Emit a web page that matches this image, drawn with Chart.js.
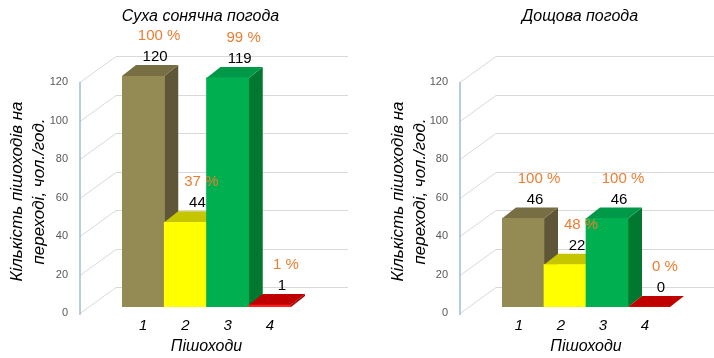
<!DOCTYPE html>
<html lang="uk">
<head>
<meta charset="UTF-8" />
<title>Кількість пішоходів на переході</title>
<script src="https://cdn.jsdelivr.net/npm/chart.js"></script>
<style>
  body { margin: 0; background: #fff; }
  .wrap { position: relative; width: 714px; height: 358px; overflow: hidden; }
  canvas { position: absolute; top: 0; }
  #dryChart { left: 0; }
  #rainChart { left: 357px; }
</style>
</head>
<body>
<div class="wrap">
  <canvas id="dryChart" width="357" height="358"></canvas>
  <canvas id="rainChart" width="357" height="358"></canvas>
</div>
<script>
// дані
const categories = ["1", "2", "3", "4"];
const yTicks = [0, 20, 40, 60, 80, 100, 120];
const dryValues = [120, 44, 119, 1];
const dryPercents = [100, 37, 99, 1];
const rainValues = [46, 22, 46, 0];
const rainPercents = [100, 48, 100, 0];
const dryTitle = "Суха сонячна погода";
const rainTitle = "Дощова погода";
const yTitle = ["Кількість пішоходів на", "переході, чол./год."];
const xTitle = "Пішоходи";

// кольори граней стовпців
const frontColors = ["#948A54", "#FFFF00", "#00B050", "#FF2020"];
const sideColors = ["#5E5636", "#C4C400", "#00782F", "#A00000"];
const topColors = ["#786E44", "#C6C600", "#00994A", "#C00000"];

const FONT = "'Liberation Sans', Arial, sans-serif";
const DX = 14, DY = 11;        // глибина стовпця
const WX = 36, WY = 26;        // глибина задньої стінки

function poly(ctx, pts) {
  ctx.beginPath();
  ctx.moveTo(pts[0][0], pts[0][1]);
  for (let k = 1; k < pts.length; k++) ctx.lineTo(pts[k][0], pts[k][1]);
  ctx.closePath();
  ctx.fill();
}

// задня стінка: лінії сітки та вісь
const wall = {
  id: "wall",
  beforeDraw(chart, args, opts) {
    const ctx = chart.ctx, y = chart.scales.y, area = chart.chartArea;
    const ax = area.left - 42;
    ctx.save();
    ctx.strokeStyle = "#D9D9D9";
    ctx.lineWidth = 1;
    y.ticks.forEach(t => {
      const py = Math.round(y.getPixelForValue(t.value) + 6) + 0.5;
      ctx.beginPath();
      ctx.moveTo(ax, py);
      ctx.lineTo(ax + WX, py - WY);
      ctx.lineTo(opts.end, py - WY);
      ctx.stroke();
    });
    ctx.strokeStyle = "#9DBBDD";
    ctx.lineWidth = 1.5;
    ctx.beginPath();
    ctx.moveTo(ax, y.getPixelForValue(yTicks[yTicks.length - 1]) + 6);
    ctx.lineTo(ax, y.getPixelForValue(0) + 8);
    ctx.stroke();
    ctx.restore();
  }
};

// бічні та верхні грані, підписи
const bar3d = {
  id: "bar3d",
  beforeDatasetsDraw(chart) {
    const ctx = chart.ctx;
    const bars = chart.getDatasetMeta(0).data;
    ctx.save();
    bars.forEach((bar, i) => {
      const { x, y, base, width } = bar.getProps(["x", "y", "base", "width"], true);
      const r = x + width / 2;
      ctx.fillStyle = sideColors[i];
      poly(ctx, [[r, y], [r + DX, y - DY], [r + DX, base - DY], [r, base]]);
    });
    bars.forEach((bar, i) => {
      const { x, y, width } = bar.getProps(["x", "y", "width"], true);
      const l = x - width / 2, r = x + width / 2;
      ctx.fillStyle = topColors[i];
      poly(ctx, [[l, y], [l + DX, y - DY], [r + DX, y - DY], [r, y]]);
    });
    ctx.restore();
  },
  afterDatasetsDraw(chart, args, opts) {
    const ctx = chart.ctx;
    const values = chart.data.datasets[0].data;
    ctx.save();
    ctx.font = "15px " + FONT;
    ctx.textAlign = "center";
    ctx.textBaseline = "middle";
    chart.getDatasetMeta(0).data.forEach((bar, i) => {
      const { x, y } = bar.getProps(["x", "y"], true);
      const vy = y - DY - 8;
      ctx.fillStyle = "#000";
      ctx.fillText(String(values[i]), x + 12, vy);
      ctx.fillStyle = "#ED7D31";
      ctx.fillText(opts.percents[i] + " %", x + 16, vy - 21);
    });
    ctx.restore();
  },
  afterDraw(chart, args, opts) {
    const ctx = chart.ctx, area = chart.chartArea;
    ctx.save();
    ctx.font = "italic 16px " + FONT;
    ctx.fillStyle = "#000";
    ctx.textAlign = "center";
    ctx.textBaseline = "middle";
    ctx.fillText(opts.title, (area.left + area.right) / 2 - 6, 17);
    ctx.restore();
  }
};

function makeChart(id, values, percents, title, padLeft, yWidth, padRight, gridEnd, xShift) {
  return new Chart(document.getElementById(id), {
    type: "bar",
    data: {
      labels: categories,
      datasets: [{
        data: values,
        backgroundColor: frontColors,
        borderWidth: 0,
        categoryPercentage: 1,
        barPercentage: 1
      }]
    },
    options: {
      responsive: false,
      animation: false,
      layout: { padding: { left: padLeft, right: padRight, top: 76, bottom: 0 } },
      plugins: {
        legend: { display: false },
        tooltip: { enabled: false },
        wall: { end: gridEnd },
        bar3d: { percents: percents, title: title }
      },
      scales: {
        x: {
          grid: { display: false, drawTicks: false },
          border: { display: false },
          ticks: { color: "#000", font: { family: FONT, size: 15, style: "italic" }, padding: 10, labelOffset: xShift },
          title: { display: true, text: xTitle, color: "#000", font: { family: FONT, size: 16, style: "italic" }, padding: { top: 0, bottom: 2 } },
          afterFit: s => { s.height = 51; s.paddingLeft = 0; s.paddingRight = 0; }
        },
        y: {
          min: 0,
          max: 120,
          afterBuildTicks: s => { s.ticks = yTicks.map(v => ({ value: v })); },
          grid: { display: false, drawTicks: false },
          border: { display: false },
          ticks: { color: "#595959", font: { family: FONT, size: 11 }, padding: 54, labelOffset: 6 },
          title: { display: true, text: yTitle, color: "#000", font: { family: FONT, size: 17, style: "italic", lineHeight: 1.3 }, padding: { top: 6, bottom: 0 } },
          afterFit: s => { s.width = yWidth; s.paddingTop = 0; s.paddingBottom = 0; }
        }
      }
    },
    plugins: [wall, bar3d]
  });
}

makeChart("dryChart", dryValues, dryPercents, dryTitle, 0, 122, 66, 348, 0);
makeChart("rainChart", rainValues, rainPercents, rainTitle, 24, 121, 44, 357, -4);
</script>
</body>
</html>
